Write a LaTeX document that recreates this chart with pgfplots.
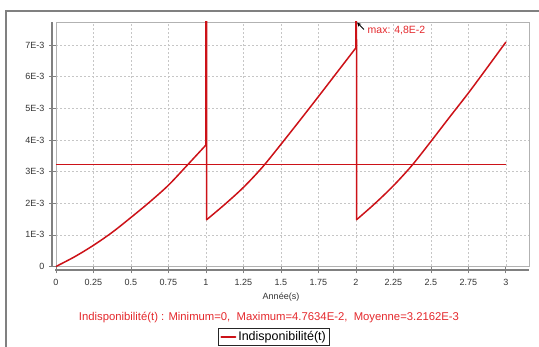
\documentclass[border=0pt]{standalone}
\usepackage{fontspec}
\setmainfont{Liberation Sans}
\usepackage{pgfplots}
\pgfplotsset{compat=1.18}
\usetikzlibrary{arrows.meta}
\definecolor{cred}{RGB}{204,18,24}
\definecolor{tred}{RGB}{228,40,44}
\definecolor{axgray}{RGB}{128,128,128}
\begin{document}
\begin{tikzpicture}[x=1pt,y=1pt]
\path[use as bounding box] (0,0) rectangle (539,347);
\draw[axgray, line width=1.5pt] (6,-5) -- (6,336) -- (545,336);
\begin{axis}[
  at={(56pt,80.5pt)}, anchor=south west,
  scale only axis, width=473pt, height=244.5pt,
  xmin=0, xmax=3.155, ymin=0, ymax=7.73,
  xtick={0,0.25,0.5,0.75,1,1.25,1.5,1.75,2,2.25,2.5,2.75,3},
  xticklabels={0,0.25,0.5,0.75,1,1.25,1.5,1.75,2,2.25,2.5,2.75,3},
  ytick={0,1,2,3,4,5,6,7},
  yticklabels={0,1E-3,2E-3,3E-3,4E-3,5E-3,6E-3,7E-3},
  grid=major,
  major grid style={gray!45, dash pattern=on 2pt off 2pt, line width=0.5pt},
  axis line style={gray!60, line width=0.6pt},
  tick pos=left, tick align=outside, major tick length=7pt,
  tick style={axgray, line width=0.6pt},
  ticklabel style={font=\fontsize{9}{10}\selectfont, text=black!80},
  xticklabel style={yshift=-2pt},
  yticklabel style={xshift=-1pt},
  legend style={at={(0.461,-0.253)}, anchor=north, draw=black!85, line width=0.8pt,
    font=\fontsize{12.5}{14}\selectfont, inner xsep=2pt, inner ysep=1pt},
  legend image code/.code={\draw[#1, line width=2pt] (0pt,0pt) -- (14pt,0pt);},
]
\addplot[cred, line width=1.5pt, smooth, tension=0.5, line cap=round] coordinates {
(0,0) (0.125,0.31) (0.25,0.67) (0.375,1.08) (0.5,1.55) (0.625,2.04) (0.75,2.57) (0.875,3.20) (1,3.84)
};
\addlegendentry{Indisponibilité(t)}
\addplot[cred, line width=1.5pt, line cap=round, line join=round, forget plot] coordinates {
(1,3.84) (1,47.634) (1.005,1.48)
};
\addplot[cred, line width=1.5pt, smooth, tension=0.5, line cap=round, forget plot] coordinates {
(1.005,1.48) (1.125,1.96) (1.25,2.50) (1.375,3.13) (1.5,3.86) (1.625,4.61) (1.75,5.37) (1.875,6.14) (2,6.91)
};
\addplot[cred, line width=1.5pt, line cap=round, line join=round, forget plot] coordinates {
(2,6.91) (2,47.634) (2.005,1.48)
};
\addplot[cred, line width=1.5pt, smooth, tension=0.5, line cap=round, forget plot] coordinates {
(2.005,1.48) (2.125,1.98) (2.25,2.55) (2.375,3.20) (2.5,3.95) (2.625,4.72) (2.75,5.48) (2.875,6.28) (3,7.09)
};
\addplot[cred, line width=1.2pt, forget plot] coordinates {(0,3.2162) (3,3.2162)};
\end{axis}
\draw[axgray, line width=1.6pt] (52,80.5) -- (52,325);
\draw[axgray, line width=1.6pt] (55,77) -- (529,77);
\draw[black, line width=0.8pt, -{Stealth[length=4pt,width=4pt]}] (364,317.5) -- (357.2,324.3);
\node[anchor=west, text=tred, font=\fontsize{10.5}{12}\selectfont, inner sep=0pt] at (367.5,316.3) {max: 4,8E-2};
\node[text=black!80, font=\fontsize{9}{10}\selectfont] at (281,50.3) {Année(s)};
\node[text=tred, font=\fontsize{11.3}{13}\selectfont] at (269,29) {Indisponibilité(t) : Minimum=0,\ \ Maximum=4.7634E-2,\ \ Moyenne=3.2162E-3};
\end{tikzpicture}
\end{document}
